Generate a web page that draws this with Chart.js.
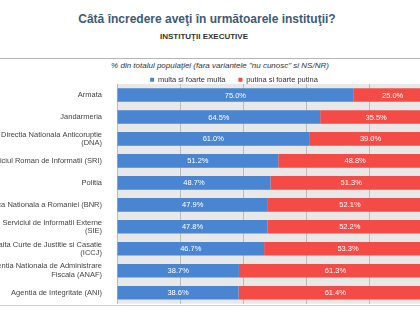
<!DOCTYPE html>
<html>
<head>
<meta charset="utf-8">
<script src="https://cdn.jsdelivr.net/npm/chart.js@4"></script>
<style>
  body { margin: 0; width: 420px; height: 315px; overflow: hidden; background: #fff; font-family: "Liberation Sans", Arial, sans-serif; position: relative; }
  #titlu { position: absolute; top: 12px; left: -3px; width: 420px; text-align: center; font-size: 12px; font-weight: bold; color: #3d5a78; }
  #subtitlu { position: absolute; top: 32px; left: -6px; width: 420px; text-align: center; font-size: 8px; font-weight: bold; color: #333; }
  #linieSus { position: absolute; top: 58px; left: 0; width: 420px; height: 1px; background: #b5b5b5; }
  #nota { position: absolute; top: 61px; left: 0; width: 440px; text-align: center; font-size: 8px; font-style: italic; color: #333; }
  #linieJos { position: absolute; top: 305px; left: 0; width: 420px; height: 1px; background: #cfcfcf; }
  #grafic { position: absolute; top: 63px; left: 0; }
</style>
</head>
<body>
<div id="titlu">Câtă încredere aveţi în următoarele instituţii?</div>
<div id="subtitlu">INSTITUŢII EXECUTIVE</div>
<div id="linieSus"></div>
<div id="nota">% din totalul populaţiei (fara variantele "nu cunosc" si NS/NR)</div>
<canvas id="grafic" width="460" height="252"></canvas>
<div id="linieJos"></div>
<script>
const institutii = [
  "Armata",
  "Jandarmeria",
  ["Directia Nationala Anticoruptie", "(DNA)"],
  "Serviciul Roman de Informatii (SRI)",
  "Politia",
  "Banca Nationala a Romaniei (BNR)",
  ["Serviciul de Informatii Externe", "(SIE)"],
  ["Inalta Curte de Justitie si Casatie", "(ICCJ)"],
  ["Agentia Nationala de Administrare", "Fiscala (ANAF)"],
  "Agentia de Integritate (ANI)"
];
const multa = [75.0, 64.5, 61.0, 51.2, 48.7, 47.9, 47.8, 46.7, 38.7, 38.6];
const putina = [25.0, 35.5, 39.0, 48.8, 51.3, 52.1, 52.2, 53.3, 61.3, 61.4];
const serii = ["multa si foarte multa", "putina si foarte putina"];

// fundal gri pentru zona graficului
const fundal = {
  id: "fundal",
  beforeDraw(chart) {
    const a = chart.chartArea;
    const ctx = chart.ctx;
    ctx.save();
    ctx.fillStyle = "#e8e8e8";
    ctx.fillRect(a.left, a.top, a.right - a.left, a.bottom - a.top);
    ctx.restore();
  }
};

// legenda putin mai la dreapta, ca in original
const mutaLegenda = {
  id: "mutaLegenda",
  afterLayout(chart) {
    chart.legend.left += 18;
    chart.legend.right += 18;
  }
};

// etichete cu procente in mijlocul barelor
const etichete = {
  id: "etichete",
  afterDatasetsDraw(chart) {
    const ctx = chart.ctx;
    ctx.save();
    ctx.fillStyle = "#ffffff";
    ctx.font = "7.5px 'Liberation Sans', Arial, sans-serif";
    ctx.textAlign = "center";
    ctx.textBaseline = "middle";
    chart.data.datasets.forEach((ds, i) => {
      chart.getDatasetMeta(i).data.forEach((bar, j) => {
        const p = bar.getCenterPoint();
        ctx.fillText(ds.data[j].toFixed(1) + "%", p.x, p.y + 0.5);
      });
    });
    ctx.restore();
  }
};

new Chart(document.getElementById("grafic"), {
  type: "bar",
  data: {
    labels: institutii,
    datasets: [
      { label: serii[0], data: multa, backgroundColor: "#4a85d1", categoryPercentage: 1, barPercentage: 0.62 },
      { label: serii[1], data: putina, backgroundColor: "#f54b46", categoryPercentage: 1, barPercentage: 0.62 }
    ]
  },
  options: {
    indexAxis: "y",
    responsive: false,
    animation: false,
    devicePixelRatio: 1,
    layout: { padding: { top: 0, right: 28, bottom: 0, left: 0 } },
    plugins: {
      legend: {
        maxHeight: 21,
        labels: {
          boxWidth: 4,
          boxHeight: 4,
          padding: 13,
          color: "#333",
          font: { size: 7.5, family: "'Liberation Sans', Arial, sans-serif" }
        }
      },
      tooltip: { enabled: false }
    },
    scales: {
      x: {
        stacked: true,
        min: 0,
        max: 100,
        ticks: { display: false, stepSize: 20 },
        grid: { color: "#bdbdbd", drawTicks: false },
        border: { display: false }
      },
      y: {
        stacked: true,
        afterFit(scale) { scale.width = 117; },
        ticks: {
          padding: 7,
          color: "#444",
          font: { size: 7.5, family: "'Liberation Sans', Arial, sans-serif", lineHeight: 1.15 }
        },
        grid: { display: false },
        border: { display: false }
      }
    }
  },
  plugins: [fundal, mutaLegenda, etichete]
});
</script>
</body>
</html>
